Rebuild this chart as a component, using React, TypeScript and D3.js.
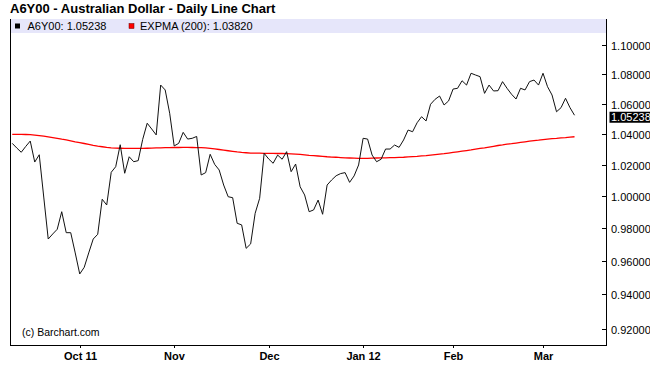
import React from "react";
import * as d3 from "d3";

const W = 650;
const H = 386;

const title = "A6Y00 - Australian Dollar - Daily Line Chart";
const seriesName = "A6Y00";
const emaName = "EXPMA (200)";

// trading days: weekdays between these, minus exchange holidays
const startDate = "2011-09-12";
const endDate = "2012-03-12";
const holidays = ["2011-11-24", "2011-12-26", "2012-01-02", "2012-01-16", "2012-02-20"];

const closes = [
  1.0339, 1.0309, 1.0281, 1.0319, 1.0354, 1.0218, 1.0265, 0.9995, 0.9734, 0.9765,
  0.9794, 0.9903, 0.9773, 0.9773, 0.9649, 0.9522, 0.9562, 0.9649, 0.9734, 0.9763,
  0.9981, 0.9945, 1.0152, 1.0188, 1.0330, 1.0146, 1.0252, 1.0220, 1.0227, 1.0365,
  1.0471, 1.0433, 1.0394, 1.0726, 1.0693, 1.0537, 1.0322, 1.0339, 1.0411, 1.0367,
  1.0372, 1.0384, 1.0135, 1.0150, 1.0268, 1.0203, 1.0167, 1.0071, 0.9997, 0.9991,
  0.9831, 0.9821, 0.9677, 0.9704, 0.9893, 0.9987, 1.0274, 1.0238, 1.0210, 1.0263,
  1.0236, 1.0285, 1.0156, 1.0205, 1.0060, 1.0008, 0.9903, 0.9914, 0.9976, 0.9887,
  1.0071, 1.0103, 1.0130, 1.0144, 1.0150, 1.0088, 1.0129, 1.0199, 1.0372, 1.0367,
  1.0263, 1.0220, 1.0236, 1.0302, 1.0302, 1.0328, 1.0313, 1.0361, 1.0426, 1.0415,
  1.0474, 1.0514, 1.0486, 1.0597, 1.0630, 1.0652, 1.0592, 1.0619, 1.0699, 1.0704,
  1.0755, 1.0726, 1.0806, 1.0794, 1.0783, 1.0670, 1.0726, 1.0686, 1.0688, 1.0749,
  1.0704, 1.0664, 1.0632, 1.0704, 1.0693, 1.0749, 1.0760, 1.0726, 1.0806, 1.0715,
  1.0659, 1.0547, 1.0574, 1.0637, 1.0574, 1.05238,
];

const expma = [
  1.0398, 1.0398, 1.0398, 1.0397, 1.0396, 1.0393, 1.0390, 1.0386, 1.0382, 1.0377,
  1.0372, 1.0366, 1.0361, 1.0355, 1.0349, 1.0344, 1.0338, 1.0332, 1.0326, 1.0321,
  1.0317, 1.0313, 1.0310, 1.0308, 1.0307, 1.0306, 1.0306, 1.0306, 1.0306, 1.0306,
  1.0307, 1.0308, 1.0309, 1.0310, 1.0311, 1.0311, 1.0312, 1.0312, 1.0313, 1.0313,
  1.0312, 1.0311, 1.0311, 1.0309, 1.0307, 1.0303, 1.0299, 1.0295, 1.0291, 1.0287,
  1.0283, 1.0280, 1.0278, 1.0276, 1.0275, 1.0275, 1.0274, 1.0274, 1.0274, 1.0273,
  1.0273, 1.0272, 1.0271, 1.0269, 1.0267, 1.0264, 1.0261, 1.0259, 1.0257, 1.0255,
  1.0252, 1.0250, 1.0249, 1.0247, 1.0245, 1.0244, 1.0243, 1.0242, 1.0242, 1.0242,
  1.0243, 1.0244, 1.0245, 1.0245, 1.0246, 1.0247, 1.0248, 1.0249, 1.0251, 1.0253,
  1.0255, 1.0258, 1.0260, 1.0263, 1.0266, 1.0269, 1.0272, 1.0276, 1.0280, 1.0284,
  1.0288, 1.0292, 1.0296, 1.0301, 1.0306, 1.0310, 1.0315, 1.0320, 1.0325, 1.0329,
  1.0334, 1.0337, 1.0341, 1.0345, 1.0349, 1.0353, 1.0357, 1.0360, 1.0364, 1.0367,
  1.0370, 1.0372, 1.0375, 1.0377, 1.0380, 1.0382,
];

const yTicks = [0.92, 0.94, 0.96, 0.98, 1.0, 1.02, 1.04, 1.06, 1.08, 1.1];
const monthKeys = ["2011-10", "2011-11", "2011-12", "2012-01", "2012-02", "2012-03"];
const monthLabels = ["Oct 11", "Nov", "Dec", "Jan 12", "Feb", "Mar"];

const FONT = "'Liberation Sans', Arial, Helvetica, sans-serif";

function tradingDays() {
  const fmt = d3.utcFormat("%Y-%m-%d");
  const s = d3.utcParse("%Y-%m-%d")(startDate)!;
  const e = d3.utcParse("%Y-%m-%d")(endDate)!;
  return d3
    .utcDay.range(s, d3.utcDay.offset(e, 1))
    .filter(d => d.getUTCDay() !== 0 && d.getUTCDay() !== 6 && !holidays.includes(fmt(d)));
}

export default function App() {
  const left = 10, right = 606, top = 19, bottom = 345;
  const dates = tradingDays();
  const monthFmt = d3.utcFormat("%Y-%m");

  const x = d3.scaleLinear().domain([-0.5, 132]).range([left, right]);
  const y = d3.scaleLog().domain([0.9105, 1.1182]).range([bottom, top]);

  const line = d3.line<number>().x((_, i) => x(i)).y(d => y(d));

  const last = closes[closes.length - 1];
  const lastEma = expma[expma.length - 1];

  const monthTicks = monthKeys.map((k, i) => ({
    label: monthLabels[i],
    idx: dates.findIndex(d => monthFmt(d) === k),
  }));

  return (
    <svg width={W} height={H} style={{ position: "absolute", left: 0, top: 0, background: "#fff" }}>
      <text x={10} y={13} fontFamily={FONT} fontWeight="bold" fontSize={13} fill="#000">
        {title}
      </text>

      {/* legend band */}
      <rect x={left} y={top} width={right - left} height={14} fill="#e6e6fa" />
      <rect x={15} y={23.5} width={5} height={5} fill="#000" />
      <text x={27.5} y={30} fontFamily={FONT} fontSize={11} fill="#000">
        {`${seriesName}: ${last.toFixed(5)}`}
      </text>
      <rect x={129} y={23.5} width={5} height={5} fill="#ff0000" stroke="#600" strokeWidth={0.5} />
      <text x={140} y={30} fontFamily={FONT} fontSize={11} fill="#000">
        {`${emaName}: ${lastEma.toFixed(5)}`}
      </text>

      <defs>
        <clipPath id="plot">
          <rect x={left} y={top + 14} width={right - left} height={bottom - top - 14} />
        </clipPath>
      </defs>

      <g clipPath="url(#plot)">
        <path d={line(expma) ?? ""} fill="none" stroke="#ff0000" strokeWidth={1.3} />
        <path d={line(closes) ?? ""} fill="none" stroke="#111" strokeWidth={1} />
      </g>

      <text x={22} y={336} fontFamily={FONT} fontSize={10.5} fill="#000">
        (c) Barchart.com
      </text>

      {/* frame */}
      <line x1={left + 0.5} x2={left + 0.5} y1={top} y2={bottom} stroke="#000" />
      <line x1={right + 0.5} x2={right + 0.5} y1={top} y2={bottom + 0.5} stroke="#000" />
      <line x1={left} x2={right + 1} y1={bottom + 0.5} y2={bottom + 0.5} stroke="#000" />

      {/* y axis on the right */}
      {yTicks.map(t => (
        <g key={t} transform={`translate(0,${Math.round(y(t)) + 0.5})`}>
          <line x1={right - 4} x2={right} stroke="#000" />
          <text x={611} y={4} fontFamily={FONT} fontSize={11} fill="#000">
            {t.toFixed(5)}
          </text>
        </g>
      ))}
      <rect x={609.5} y={y(last) - 3.5} width={41} height={11} fill="#000" />
      <text x={611} y={y(last) + 6} fontFamily={FONT} fontSize={11} fill="#fff">
        {last.toFixed(5)}
      </text>

      {/* x axis */}
      {monthTicks.map(m => (
        <g key={m.label} transform={`translate(${Math.round(x(m.idx)) + 0.5},${bottom})`}>
          <line y1={0} y2={3} stroke="#000" />
          <text y={15} textAnchor="middle" fontFamily={FONT} fontWeight="bold" fontSize={11} fill="#000">
            {m.label}
          </text>
        </g>
      ))}
    </svg>
  );
}
